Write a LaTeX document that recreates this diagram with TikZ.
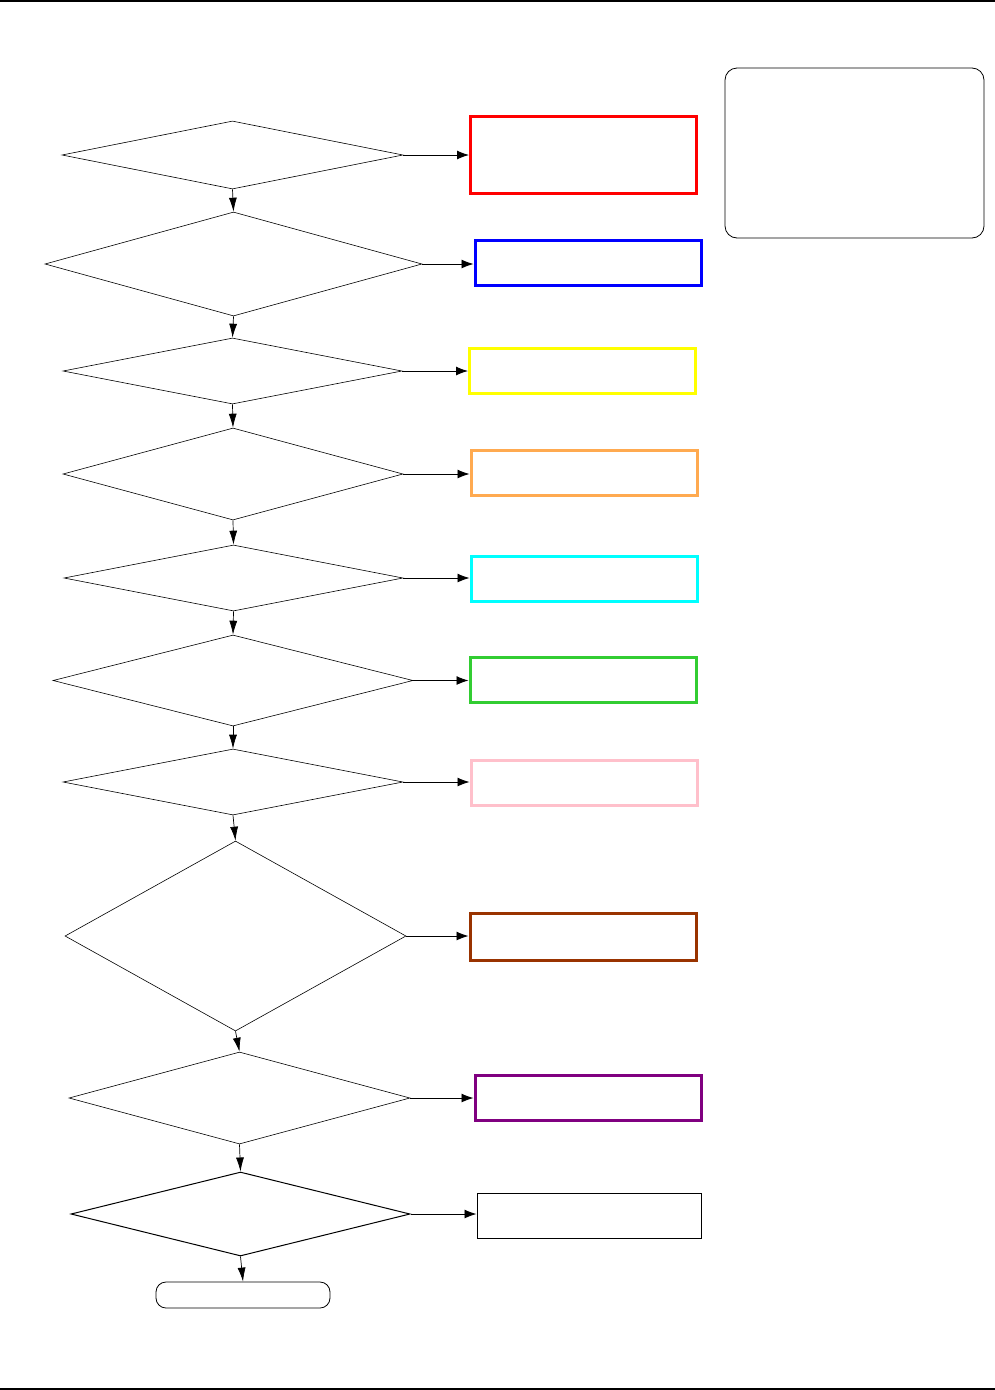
\documentclass[tikz,border=0pt]{standalone}
\usetikzlibrary{shapes.geometric,arrows.meta}
\definecolor{cred}{RGB}{255,0,0}
\definecolor{cblue}{RGB}{0,0,255}
\definecolor{cyel}{RGB}{255,255,0}
\definecolor{corange}{RGB}{255,170,80}
\definecolor{ccyan}{RGB}{0,255,255}
\definecolor{cgreen}{RGB}{50,205,50}
\definecolor{cpink}{RGB}{255,192,203}
\definecolor{cbrown}{RGB}{153,51,0}
\definecolor{cpurple}{RGB}{128,0,128}
\tikzset{
  dia/.style={diamond, draw, line width=0.6pt, inner sep=0pt},
  box/.style={rectangle, draw, line width=3pt, inner sep=0pt, minimum width=226pt, minimum height=45pt},
  flow/.style={-{Latex[length=12pt,width=9pt]}, line width=0.9pt},
  vflow/.style={-{Latex[length=14pt,width=8pt]}, line width=0.7pt},
}
\begin{document}
\begin{tikzpicture}[x=1pt,y=-1pt]
\useasboundingbox (0,0) rectangle (995,1390);
\fill[white] (0,0) rectangle (995,1390);
\draw[line width=1.5pt] (0,1) -- (995,1);
\draw[line width=1.5pt] (0,1389) -- (995,1389);
% diamonds
\node[dia, minimum width=341pt, minimum height=68pt] (d1) at (232.5,155) {};
\node[dia, minimum width=377pt, minimum height=104pt] (d2) at (233.5,264) {};
\node[dia, minimum width=339pt, minimum height=66pt] (d3) at (232.5,371) {};
\node[dia, minimum width=340pt, minimum height=92pt] (d4) at (233,474) {};
\node[dia, minimum width=339pt, minimum height=66pt] (d5) at (233.5,578) {};
\node[dia, minimum width=360pt, minimum height=91pt] (d6) at (233,680.5) {};
\node[dia, minimum width=340pt, minimum height=66pt] (d7) at (233,782) {};
\node[dia, minimum width=341pt, minimum height=190pt] (d8) at (235.5,936) {};
\node[dia, minimum width=341pt, minimum height=92pt] (d9) at (239.5,1098) {};
\node[dia, minimum width=339pt, minimum height=84pt, line width=1pt] (d10) at (240.5,1214) {};
\node[draw, line width=0.8pt, rounded corners=10pt, minimum width=174pt, minimum height=26pt, inner sep=0pt] (term) at (243,1295) {};
% boxes
\node[box, draw=cred, minimum height=77pt] (r1) at (583.5,154.5) {};
\node[box, draw=cblue] (r2) at (588,262.5) {};
\node[box, draw=cyel] (r3) at (582.5,370.5) {};
\node[box, draw=corange] (r4) at (584,473) {};
\node[box, draw=ccyan] (r5) at (584,578.5) {};
\node[box, draw=cgreen] (r6) at (583,679.5) {};
\node[box, draw=cpink] (r7) at (584,782.5) {};
\node[box, draw=cbrown, minimum height=47pt] (r8) at (583,936.5) {};
\node[box, draw=cpurple] (r9) at (588,1098) {};
\node[box, draw=black, line width=1pt, minimum width=224pt] (r10) at (589,1215.5) {};
% legend
\node[draw, line width=0.8pt, rounded corners=12pt, minimum width=259pt, minimum height=170pt, inner sep=0pt] (legend) at (854.5,153) {};
% horizontal arrows
\foreach \i in {1,...,10}{
  \draw[flow] (d\i.east) -- (d\i.east -| r\i.west);
}
% vertical arrows
\draw[vflow] (d1.south) -- (d2.north);
\draw[vflow] (d2.south) -- (d3.north);
\draw[vflow] (d3.south) -- (d4.north);
\draw[vflow] (d4.south) -- (d5.north);
\draw[vflow] (d5.south) -- (d6.north);
\draw[vflow] (d6.south) -- (d7.north);
\draw[vflow] (d7.south) -- (d8.north);
\draw[vflow] (d8.south) -- (d9.north);
\draw[vflow] (d9.south) -- (d10.north);
\draw[vflow] (d10.south) -- (term.north);
\end{tikzpicture}
\end{document}
